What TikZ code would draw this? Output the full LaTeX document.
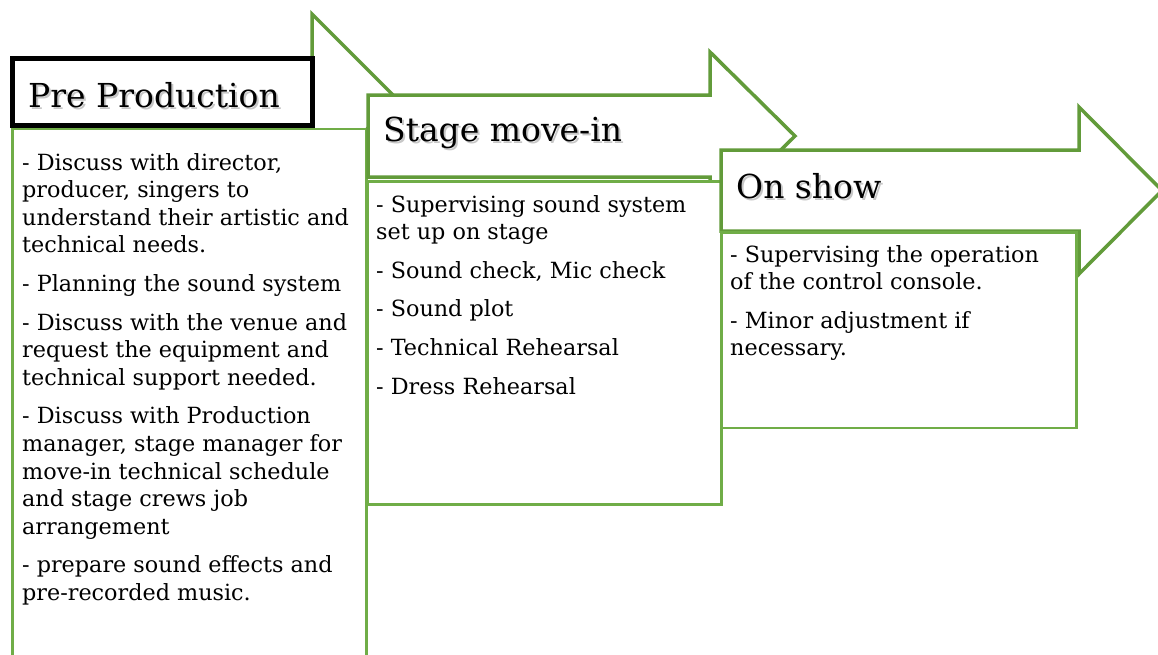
\documentclass[tikz,border=0pt]{standalone}
\usepackage{fontspec}
\setmainfont{DejaVu Serif}
\definecolor{arrowgreen}{RGB}{98,155,58}
\definecolor{boxgreen}{RGB}{112,173,71}
% one typeset line and the gap between paragraphs
\newcommand\tline[1]{\hbox{#1}}
\newcommand\pgap{\vskip 11pt}
\begin{document}
\begin{tikzpicture}[x=1pt,y=-1pt,
  arrowshape/.style={draw=arrowgreen, line width=3.5pt, fill=white, line join=miter},
  textbox/.style={draw=boxgreen, line width=2.5pt, fill=white},
  heading/.style={anchor=base west, inner sep=0pt, font=\fontsize{33}{40}\selectfont},
  headshadow/.style={heading, text=black, opacity=0.22},
  body/.style={anchor=base west, inner sep=0pt, font=\fontsize{22.3}{27.6}\selectfont},
]
\clip (0,0) rectangle (1158,654);
\fill[white] (0,0) rectangle (1158,654);

% ---- step 1: Pre Production ----
\draw[arrowshape] (14,60) -- (312,60) -- (312,14) -- (397,99) -- (312,184)
  -- (312,124) -- (14,124) -- cycle;
\draw[fill=white, draw=black, line width=4.5pt] (12.5,58.5) rectangle (312.5,125.5);
\node[headshadow] (pre-sh) at (30,109.3) {Pre Production};
\node[heading] (pre) at (28,107.3) {Pre Production};
\draw[textbox] (12.5,129) rectangle (366.5,680);
\node[body] (pre-text) at (22,170) {\vtop{%
  \tline{- Discuss with director,}
  \tline{producer, singers to}
  \tline{understand their artistic and}
  \tline{technical needs.}
  \pgap
  \tline{- Planning the sound system}
  \pgap
  \tline{- Discuss with the venue and}
  \tline{request the equipment and}
  \tline{technical support needed.}
  \pgap
  \tline{- Discuss with Production}
  \tline{manager, stage manager for}
  \tline{move-in technical schedule}
  \tline{and stage crews job}
  \tline{arrangement}
  \pgap
  \tline{- prepare sound effects and}
  \tline{pre-recorded music.}}};

% ---- step 2: Stage move-in ----
\draw[arrowshape] (368,95) -- (710,95) -- (710,52) -- (795,136) -- (710,220)
  -- (710,177) -- (368,177) -- cycle;
\node[headshadow] (stage-sh) at (385,143.7) {Stage move-in};
\node[heading] (stage) at (383,141.7) {Stage move-in};
\draw[textbox] (367.5,181.5) rectangle (721.5,504.5);
\node[body] (stage-text) at (376,212) {\vtop{%
  \tline{- Supervising sound system}
  \tline{set up on stage}
  \pgap
  \tline{- Sound check, Mic check}
  \pgap
  \tline{- Sound plot}
  \pgap
  \tline{- Technical Rehearsal}
  \pgap
  \tline{- Dress Rehearsal}}};

% ---- step 3: On show ----
\draw[arrowshape] (721,150) -- (1079,150) -- (1079,107) -- (1162,190.5) -- (1079,274)
  -- (1079,231) -- (721,231) -- cycle;
\node[headshadow] (show-sh) at (738,200.3) {On show};
\node[heading] (show) at (736,198.3) {On show};
\draw[textbox] (721.5,232.5) rectangle (1076.5,428);
\node[body] (show-text) at (730,262) {\vtop{%
  \tline{- Supervising the operation}
  \tline{of the control console.}
  \pgap
  \tline{- Minor adjustment if}
  \tline{necessary.}}};
\end{tikzpicture}
\end{document}
